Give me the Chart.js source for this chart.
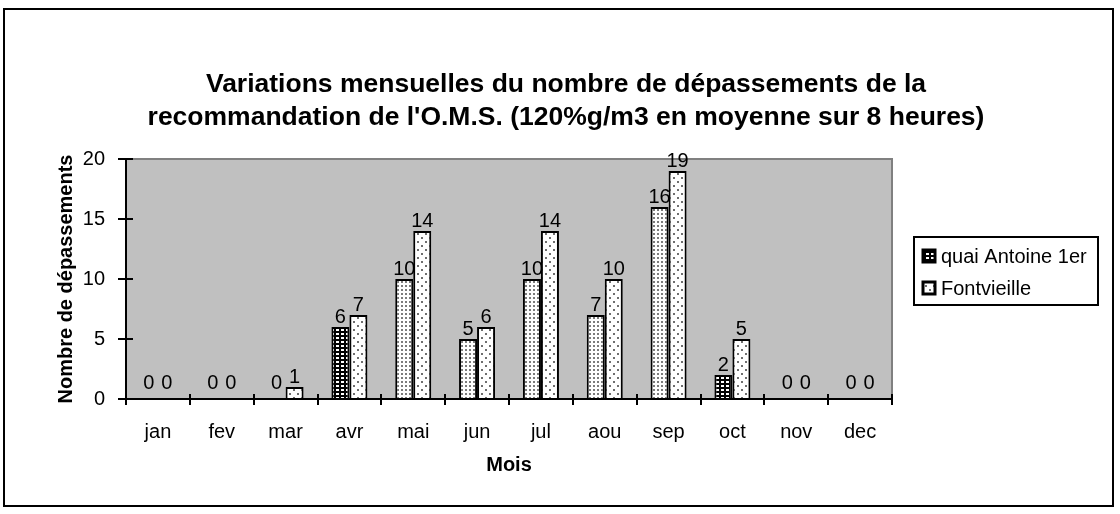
<!DOCTYPE html>
<html>
<head>
<meta charset="utf-8">
<script src="https://cdn.jsdelivr.net/npm/chart.js@4/dist/chart.umd.min.js"></script>
<style>
  html, body { margin: 0; padding: 0; background: #fff; }
  canvas { display: block; }
</style>
</head>
<body>
<canvas id="chart" width="1120" height="514"></canvas>
<script>
const months = ["jan", "fev", "mar", "avr", "mai", "jun", "jul", "aou", "sep", "oct", "nov", "dec"];
const quaiAntoine = [0, 0, 0, 6, 10, 5, 10, 7, 16, 2, 0, 0];
const fontvieille = [0, 0, 1, 7, 14, 6, 14, 10, 19, 5, 0, 0];
const seriesNames = ["quai Antoine 1er", "Fontvieille"];
const yTicks = [0, 5, 10, 15, 20];

const FONT = "'Liberation Sans', Arial, sans-serif";

// small tiled patterns, like the old spreadsheet fills
function makePattern(w, h, draw) {
  const c = document.createElement("canvas");
  c.width = w; c.height = h;
  const g = c.getContext("2d");
  draw(g);
  return document.createElement("canvas").getContext("2d").createPattern(c, "repeat");
}
const denseDots = makePattern(4, 4, g => {
  g.fillStyle = "#fff"; g.fillRect(0, 0, 4, 4);
  g.fillStyle = "#7c7c7c"; g.fillRect(1, 1, 2, 2);
});
const blockDots = makePattern(5, 4, g => {
  g.fillStyle = "#000"; g.fillRect(0, 0, 5, 4);
  g.fillStyle = "#fff"; g.fillRect(1, 1, 3, 2);
});
const sparseDots = makePattern(8, 8, g => {
  g.fillStyle = "#fff"; g.fillRect(0, 0, 8, 8);
  g.fillStyle = "#6e6e6e"; g.fillRect(1, 1, 2, 2); g.fillRect(5, 5, 2, 2);
});
// avr and oct bars of the first series render with the coarser fill
const quaiFills = months.map((m, i) => (i === 3 || i === 9) ? blockDots : denseDots);

const frame = {
  id: "frame",
  beforeDraw(chart) {
    const { ctx, chartArea: a } = chart;
    ctx.save();
    ctx.fillStyle = "#c0c0c0";
    ctx.fillRect(a.left, a.top, a.right - a.left, a.bottom - a.top);
    ctx.restore();
  },
  afterDraw(chart) {
    const { ctx, chartArea: a } = chart;
    const xs = chart.scales.x, ys = chart.scales.y;
    ctx.save();
    // grey top/right edge of plot area
    ctx.strokeStyle = "#808080";
    ctx.lineWidth = 2;
    ctx.beginPath();
    ctx.moveTo(a.left, a.top); ctx.lineTo(a.right, a.top); ctx.lineTo(a.right, a.bottom);
    ctx.stroke();
    // inner halves of the tick marks
    ctx.strokeStyle = "#000";
    ctx.beginPath();
    const step = (xs.right - xs.left) / months.length;
    for (let i = 0; i <= months.length; i++) {
      const x = Math.round(xs.left + i * step);
      ctx.moveTo(x, a.bottom); ctx.lineTo(x, a.bottom - 5);
    }
    yTicks.forEach(v => {
      const y = Math.round(ys.getPixelForValue(v));
      ctx.moveTo(a.left, y); ctx.lineTo(a.left + 7, y);
    });
    ctx.stroke();
    // value labels
    ctx.fillStyle = "#000";
    ctx.font = "20px " + FONT;
    ctx.textAlign = "center";
    ctx.textBaseline = "alphabetic";
    chart.data.datasets.forEach((ds, di) => {
      chart.getDatasetMeta(di).data.forEach((bar, i) => {
        const y = ds.data[i] === 0 ? bar.y - 10 : bar.y - 4;
        ctx.fillText(String(ds.data[i]), bar.x, y);
      });
    });
    // legend box
    const lx = 914, ly = 237, lw = 184, lh = 68;
    ctx.lineWidth = 2;
    ctx.strokeRect(lx, ly, lw, lh);
    ctx.textAlign = "left";
    ctx.textBaseline = "middle";
    const swatch = [blockDots, sparseDots];
    chart.data.datasets.forEach((ds, di) => {
      const cy = ly + 19 + di * 32;
      ctx.fillStyle = swatch[di];
      ctx.fillRect(lx + 9, cy - 6, 12, 12);
      ctx.strokeStyle = "#000";
      ctx.lineWidth = 3;
      ctx.strokeRect(lx + 9, cy - 6, 12, 12);
      ctx.fillStyle = "#000";
      ctx.fillText(ds.label, lx + 27, cy + 1);
    });
    // outer chart border
    ctx.lineWidth = 2;
    ctx.strokeRect(4, 9, 1109, 497);
    ctx.restore();
  }
};

new Chart(document.getElementById("chart"), {
  type: "bar",
  data: {
    labels: months,
    datasets: [
      { label: seriesNames[0], data: quaiAntoine, backgroundColor: quaiFills,
        borderColor: "#000", borderWidth: 2 },
      { label: seriesNames[1], data: fontvieille, backgroundColor: sparseDots,
        borderColor: "#000", borderWidth: 2 }
    ]
  },
  options: {
    responsive: false,
    animation: false,
    layout: { padding: { top: 10, left: 14, right: 2, bottom: 8 } },
    datasets: { bar: { categoryPercentage: 0.564, barPercentage: 1 } },
    plugins: {
      legend: { display: false },
      tooltip: { enabled: false },
      title: {
        display: true,
        text: ["Variations mensuelles du nombre de dépassements de la",
               "recommandation de l'O.M.S. (120%g/m3 en moyenne sur 8 heures)"],
        color: "#000",
        font: { family: FONT, size: 26.5, weight: "bold", lineHeight: 1.245 },
        padding: { top: 58, bottom: 25 }
      }
    },
    scales: {
      x: {
        grid: { display: true, drawOnChartArea: false, tickLength: 6, color: "#000", lineWidth: 2 },
        border: { display: true, color: "#000", width: 2 },
        ticks: { color: "#000", font: { family: FONT, size: 20 }, padding: 15, maxRotation: 0 },
        title: { display: true, text: "Mois", color: "#000",
                 font: { family: FONT, size: 20, weight: "bold" }, padding: { bottom: 29 } },
        afterFit(scale) { scale.height = 107; }
      },
      y: {
        min: 0, max: 20,
        afterBuildTicks(scale) { scale.ticks = yTicks.map(v => ({ value: v })); },
        grid: { display: true, drawOnChartArea: false, tickLength: 8, color: "#000", lineWidth: 2 },
        border: { display: true, color: "#000", width: 2 },
        ticks: { color: "#000", font: { family: FONT, size: 20 }, padding: 13 },
        title: { display: true, text: "Nombre de dépassements", color: "#000",
                 font: { family: FONT, size: 20, weight: "bold" }, padding: { top: 40 } },
        afterFit(scale) { scale.width = 112; }
      },
      yRight: {
        position: "right",
        display: true,
        grid: { display: false },
        border: { display: false },
        ticks: { display: false },
        afterFit(scale) { scale.width = 226; }
      }
    }
  },
  plugins: [frame]
});
</script>
</body>
</html>
